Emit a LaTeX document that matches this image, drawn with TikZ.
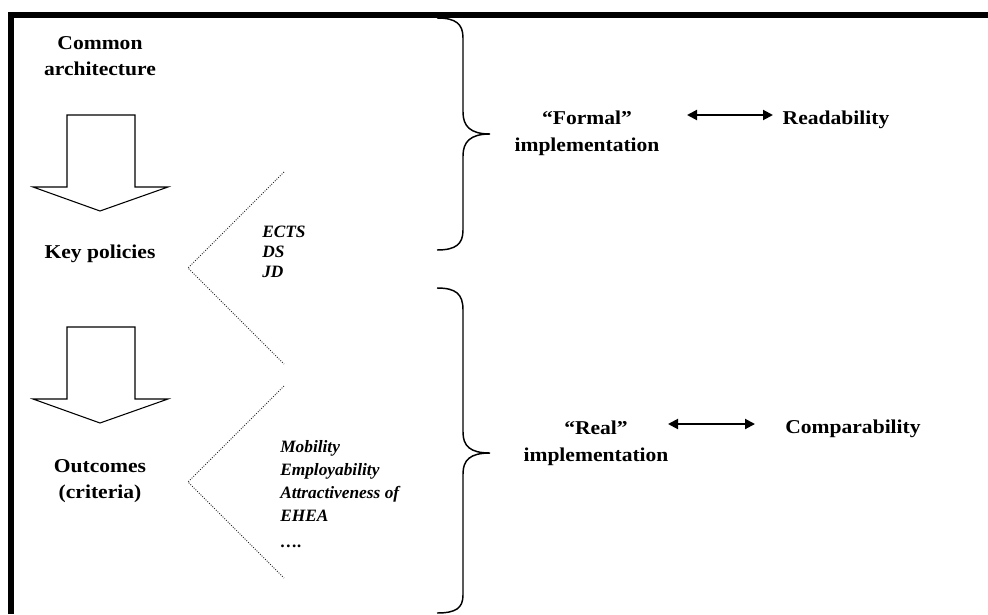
\documentclass[tikz,border=0pt]{standalone}
\usepackage{fontspec}
\setmainfont{Liberation Serif}
\newfontfamily\widefont[FakeStretch=1.1]{Liberation Serif}
\usetikzlibrary{arrows.meta}

\tikzset{
  heading/.style={font=\widefont\bfseries\fontsize{14.7}{20}\selectfont, align=center, inner sep=0pt},
  itemlist/.style={font=\bfseries\itshape\fontsize{13}{15.5}\selectfont, align=left, inner sep=0pt, anchor=north west},
  dotline/.style={black!85, line width=0.7pt, dash pattern=on 0.7pt off 1.1pt},
  bracket/.style={line width=1.1pt},
  twoway/.style={line width=1.5pt, {Triangle[length=7.5pt,width=7.5pt]}-{Triangle[length=7.5pt,width=7.5pt]}}
}

\begin{document}
\begin{tikzpicture}[x=0.75pt,y=-0.75pt]
\useasboundingbox (0,0) rectangle (988,614);

% frame, top and left only
\draw[line width=3.8pt] (11,614) -- (11,15) -- (988,15);

% left column
\node[heading] (common) at (100,56) {Common\\architecture};
\node[heading] (keypol) at (100,254) {Key policies};
\node[heading] (outcomes) at (100,481) {Outcomes\\(criteria)};

\foreach \dy in {0,212}
  \draw[line width=0.8pt] (67,115+\dy) -- (135,115+\dy) -- (135,187+\dy) -- (168,187+\dy)
    -- (100,211+\dy) -- (33,187+\dy) -- (67,187+\dy) -- cycle;

% dotted chevrons
\draw[dotline] (284,172) -- (188,268) -- (284,364);
\draw[dotline] (284,386) -- (188,482) -- (284,578);

\node[itemlist] (policies) at (262,226) {ECTS\\[-0.6pt]DS\\[-0.6pt]JD};
\node[itemlist, font=\bfseries\itshape\fontsize{13}{17.3}\selectfont] (criteria) at (280,440)
  {Mobility\\Employability\\Attractiveness of\\EHEA\\[2pt]\dots.};

% braces
\draw[bracket] (437,18) .. controls (456,18) and (463,24) .. (463,38) -- (463,112)
  .. controls (463,126) and (470,134) .. (490,134)
  .. controls (470,134) and (463,142) .. (463,156) -- (463,230)
  .. controls (463,244) and (456,250) .. (437,250);
\draw[bracket] (437,288) .. controls (456,288) and (463,294) .. (463,310) -- (463,432)
  .. controls (463,446) and (470,453) .. (490,453)
  .. controls (470,453) and (463,460) .. (463,474) -- (463,595)
  .. controls (463,608) and (456,613) .. (437,613);

% right part
\node[heading] (formal) at (587,133) {“Formal”\\implementation};
\node[heading] (readability) at (836,120) {Readability};
\node[heading] (real) at (596,443) {“Real”\\implementation};
\node[heading] (comparability) at (853,429) {Comparability};

\coordinate (fa) at (687,115);
\coordinate (fb) at (773,115);
\coordinate (ra) at (668,424);
\coordinate (rb) at (755,424);
\draw[twoway] (fa) -- (fb);
\draw[twoway] (ra) -- (rb);
\end{tikzpicture}
\end{document}
